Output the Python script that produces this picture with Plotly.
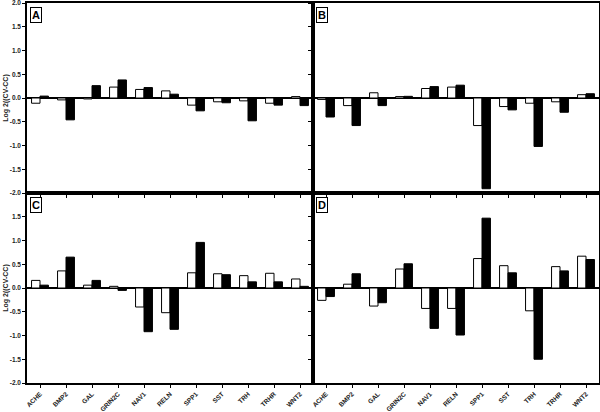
import plotly.graph_objects as go
from plotly.subplots import make_subplots

genes = ["ACHE", "BMP2", "GAL", "GRIN2C", "NAV1", "RELN", "SPP1", "SST", "TRH", "TRHR", "WNT2"]

a_white = [-0.11, -0.04, -0.02, 0.23, 0.18, 0.15, -0.15, -0.08, -0.06, -0.11, 0.03]
a_black = [0.04, -0.46, 0.26, 0.38, 0.22, 0.08, -0.27, -0.10, -0.48, -0.15, -0.16]

b_white = [-0.03, -0.16, 0.11, 0.03, 0.20, 0.23, -0.58, -0.18, -0.11, -0.08, 0.07]
b_black = [-0.40, -0.58, -0.16, 0.035, 0.24, 0.27, -1.91, -0.25, -1.02, -0.30, 0.09]

c_white = [0.16, 0.36, 0.06, 0.035, -0.40, -0.52, 0.32, 0.30, 0.26, 0.31, 0.19]
c_black = [0.06, 0.65, 0.16, -0.05, -0.92, -0.87, 0.96, 0.28, 0.13, 0.13, 0.035]

d_white = [-0.26, 0.08, -0.38, 0.40, -0.43, -0.43, 0.62, 0.47, -0.48, 0.45, 0.67]
d_black = [-0.18, 0.30, -0.31, 0.51, -0.85, -0.99, 1.47, 0.32, -1.50, 0.36, 0.60]

panel_labels = ["A", "B", "C", "D"]
y_title = "Log 2((CV-CC)"
y_ticks = [2.0, 1.5, 1.0, 0.5, 0.0, -0.5, -1.0, -1.5, -2.0]
y_ticktext = ["2.0", "1.5", "1.0", "0.5", "0.0", "-0.5", "-1.0", "-1.5", "-2.0"]

panels = [(a_white, a_black, 1, 1), (b_white, b_black, 1, 2),
          (c_white, c_black, 2, 1), (d_white, d_black, 2, 2)]

fig = make_subplots(rows=2, cols=2, horizontal_spacing=0, vertical_spacing=0)

for wv, bv, r, c in panels:
    fig.add_trace(go.Bar(x=genes, y=wv, marker=dict(color="white", line=dict(color="black", width=1)),
                         showlegend=False), row=r, col=c)
    fig.add_trace(go.Bar(x=genes, y=bv, marker=dict(color="black", line=dict(color="black", width=1)),
                         showlegend=False), row=r, col=c)

tickfont = dict(family="Liberation Sans, Arial", size=6.5, color="#222", weight="bold")

for r in (1, 2):
    for c in (1, 2):
        fig.update_xaxes(row=r, col=c, range=[-0.5, 10.5], showline=True, linecolor="black", linewidth=1.5,
                         mirror=True, ticks="outside", ticklen=3, tickwidth=1, tickcolor="black",
                         showticklabels=(r == 2), tickangle=-45, tickfont=tickfont, showgrid=False,
                         automargin=False, ticklabeloverflow="allow")
        fig.update_yaxes(row=r, col=c, range=[-2.0, 2.0], showline=True, linecolor="black", linewidth=1.5,
                         mirror=True, ticks="outside", ticklen=3, tickwidth=1, tickcolor="black",
                         tickvals=y_ticks, ticktext=y_ticktext, showticklabels=(c == 1),
                         tickfont=tickfont, showgrid=False, zeroline=True, zerolinecolor="black",
                         zerolinewidth=1.5, automargin=False, ticklabeloverflow="allow")
        if c == 1:
            fig.update_yaxes(row=r, col=c, title=dict(text=y_title, standoff=0,
                             font=dict(family="Liberation Sans, Arial", size=7, color="#222", weight="bold")))

# bottom panel top tick 2.0 label overlaps; hide it on row 2
fig.update_yaxes(row=2, col=1, tickvals=y_ticks[1:], ticktext=y_ticktext[1:])

axis_refs = [("x", "y"), ("x2", "y2"), ("x3", "y3"), ("x4", "y4")]
for lab, (xr, yr) in zip(panel_labels, axis_refs):
    fig.add_annotation(text=lab, xref=xr + " domain", yref=yr + " domain", x=0, y=1,
                       xanchor="left", yanchor="top", xshift=3, yshift=-4, showarrow=False,
                       font=dict(family="Liberation Sans, Arial", size=11, color="black", weight="bold"),
                       bordercolor="black", borderwidth=1, borderpad=1, bgcolor="white")

fig.update_layout(width=600, height=412, margin=dict(l=27, r=1, t=3, b=29, autoexpand=False),
                  paper_bgcolor="white", plot_bgcolor="white", barmode="group",
                  bargap=0.35, bargroupgap=0)

fig.write_html("out.html", config={"displayModeBar": False},
               post_script="document.body.style.margin='0';document.body.style.overflow='hidden';")
